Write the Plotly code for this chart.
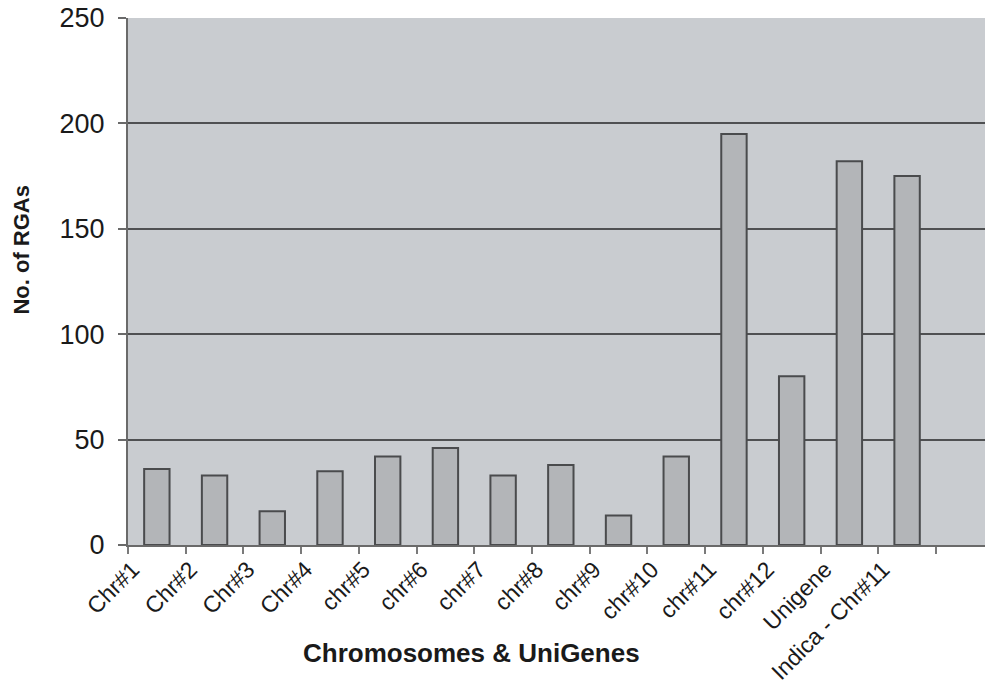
import plotly.graph_objects as go

categories = ["Chr#1", "Chr#2", "Chr#3", "Chr#4", "chr#5", "chr#6", "chr#7",
              "chr#8", "chr#9", "chr#10", "chr#11", "chr#12", "Unigene",
              "Indica - Chr#11"]
rga_counts = [36, 33, 16, 35, 42, 46, 33, 38, 14, 42, 195, 80, 182, 175]
y_ticks = [0, 50, 100, 150, 200, 250]

font_family = "Liberation Sans, Arial, sans-serif"

positions = list(range(len(categories)))
n_slots = len(categories) + 1
boundaries = [i - 0.5 for i in range(n_slots)]
label_offset = -0.42
label_positions = [p + label_offset for p in positions]
x_range = [-0.5, 14.35]

fig = go.Figure(
    go.Bar(
        x=positions,
        y=rga_counts,
        width=0.44,
        marker=dict(color="#b3b5b8", line=dict(color="#4a4b4d", width=2)),
        hoverinfo="y",
    )
)

fig.update_layout(
    width=985,
    height=689,
    margin=dict(l=128, r=0, t=18, b=144),
    paper_bgcolor="white",
    plot_bgcolor="#c9ccd0",
    showlegend=False,
    font=dict(family=font_family, color="#1a1a1a"),
    xaxis=dict(
        range=x_range,
        tickvals=boundaries,
        ticktext=["" for _ in boundaries],
        ticks="outside",
        ticklen=7,
        tickwidth=2,
        tickcolor="#7a7a7a",
        showgrid=False,
        showline=True,
        linecolor="#6a6a6a",
        linewidth=2,
        zeroline=False,
        automargin=False,
    ),
    xaxis2=dict(
        overlaying="x",
        side="bottom",
        range=x_range,
        tickvals=label_positions,
        ticktext=categories,
        ticks="outside",
        ticklen=1,
        tickcolor="rgba(0,0,0,0)",
        tickangle=-45,
        tickfont=dict(size=23, family=font_family, color="#1a1a1a"),
        ticklabeloverflow="allow",
        showgrid=False,
        showline=False,
        zeroline=False,
        automargin=False,
    ),
    yaxis=dict(
        range=[0, 250],
        tickvals=y_ticks,
        ticks="outside",
        ticklen=8,
        tickwidth=2,
        tickcolor="#6a6a6a",
        tickfont=dict(size=27, family=font_family, color="#1a1a1a"),
        ticklabelstandoff=8,
        ticklabeloverflow="allow",
        showgrid=True,
        gridcolor="#4f5052",
        gridwidth=2,
        showline=True,
        linecolor="#6a6a6a",
        linewidth=2,
        zeroline=False,
        automargin=False,
    ),
    annotations=[
        dict(
            text="<b>No. of RGAs</b>",
            xref="paper", yref="paper",
            x=-0.124, y=0.56,
            xanchor="center", yanchor="middle",
            textangle=-90, showarrow=False,
            font=dict(size=22, family=font_family, color="#1a1a1a"),
        ),
        dict(
            text="<b>Chromosomes & UniGenes</b>",
            xref="paper", yref="paper",
            x=0.401, y=-0.205,
            xanchor="center", yanchor="middle",
            showarrow=False,
            font=dict(size=26, family=font_family, color="#1a1a1a"),
        ),
    ],
)

# invisible trace to activate the label axis
fig.add_trace(go.Scatter(x=[x_range[0]], y=[0], xaxis="x2", mode="markers",
                         marker=dict(opacity=0), hoverinfo="skip", showlegend=False))

fig.write_html(
    "out.html",
    config={"displayModeBar": False},
    post_script="document.body.style.margin='0';document.body.style.overflow='hidden';",
)
